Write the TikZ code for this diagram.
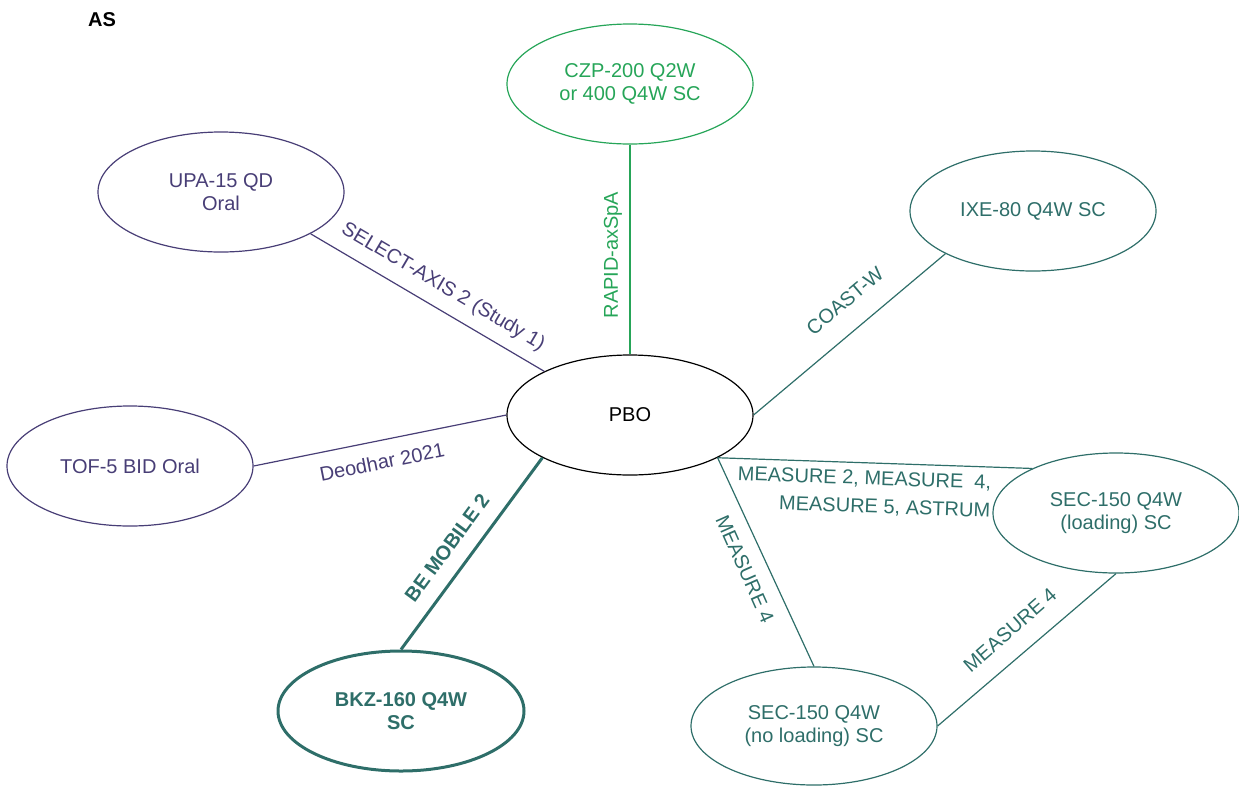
\documentclass[tikz,border=0pt]{standalone}
\usepackage{fontspec}
\setmainfont{Liberation Sans}
\usetikzlibrary{shapes.geometric}
\definecolor{cpurple}{RGB}{72,62,118}
\definecolor{cteal}{RGB}{46,110,105}
\definecolor{cgreen}{RGB}{38,165,88}
\begin{document}
\begin{tikzpicture}[x=1pt,y=-1pt,
  every node/.style={font=\fontsize{20}{23}\selectfont, align=center},
  bub/.style={ellipse, draw, minimum width=246pt, minimum height=120pt, inner sep=0pt, line width=1.2pt},
  lnk/.style={line width=1.2pt},
  lab/.style={inner sep=0pt},
  boldtxt/.style={font=\fontsize{20}{23}\selectfont\bfseries}]
\useasboundingbox (0,0) rectangle (1239,785);
\node[boldtxt] (title) at (102,20) {AS};
% nodes
\node[bub, draw=black] (pbo) at (630,415) {PBO};
\node[bub, draw=cgreen, text=cgreen] (czp) at (630,84) {CZP-200 Q2W\\or 400 Q4W SC};
\node[bub, draw=cpurple, text=cpurple] (upa) at (221,192) {UPA-15 QD\\Oral};
\node[bub, draw=cpurple, text=cpurple] (tof) at (130,466) {TOF-5 BID Oral};
\node[bub, draw=cteal, text=cteal] (ixe) at (1033,211) {IXE-80 Q4W SC};
\node[bub, draw=cteal, text=cteal] (sec1) at (1116,513) {SEC-150 Q4W\\(loading) SC};
\node[bub, draw=cteal, text=cteal, minimum height=118pt] (sec2) at (814,726) {SEC-150 Q4W\\(no loading) SC};
\node[bub, boldtxt, draw=cteal, text=cteal, line width=3pt] (bkz) at (401,711) {BKZ-160 Q4W\\SC};
% connectors
\draw[lnk, cpurple] (upa.-25.8) -- (pbo.153.7);
\node[lab, text=cpurple, rotate=-30.5] (l1) at (443,287) {SELECT-AXIS 2 (Study 1)};
\draw[lnk, cgreen] (czp.south) -- (pbo.north);
\node[lab, text=cgreen, rotate=90] (l2) at (613,255) {RAPID-axSpA};
\draw[lnk, cteal] (ixe.206.7) -- (pbo.east);
\node[lab, text=cteal, rotate=40] (l3) at (845,301) {COAST-W};
\draw[lnk, cpurple] (tof.east) -- (pbo.west);
\node[lab, text=cpurple, rotate=11.3] (l4) at (382,462) {Deodhar 2021};
\draw[cteal, line width=3pt] (pbo.206.3) -- (bkz.north);
\node[lab, boldtxt, text=cteal, rotate=53.7] (l5) at (447,548) {BE MOBILE 2};
\draw[lnk, cteal] (pbo.-26) -- (sec1.152.9);
\node[lab, text=cteal, rotate=-2, align=right, font=\fontsize{20}{28}\selectfont] (l6) at (864,493) {MEASURE 2, MEASURE\ \ 4,\\MEASURE 5, ASTRUM};
\draw[lnk, cteal] (pbo.-26) -- (sec2.north);
\node[lab, text=cteal, rotate=-66] (l7) at (745,569) {MEASURE 4};
\draw[lnk, cteal] (sec1.south) -- (sec2.east);
\node[lab, text=cteal, rotate=41] (l8) at (1010,630) {MEASURE 4};
\end{tikzpicture}
\end{document}
